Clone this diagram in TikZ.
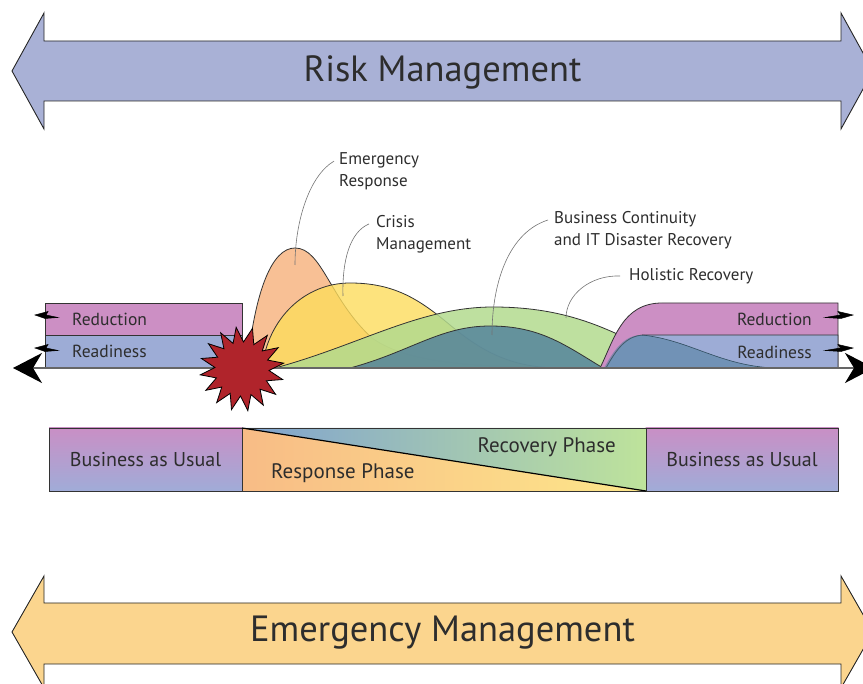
\documentclass[tikz,border=0pt]{standalone}
\usepackage{fontspec}
\setmainfont{PT Sans}
\usepackage{tikz}
\usetikzlibrary{shapes.geometric,arrows.meta}
\usepackage{color}

\definecolor{riskc}{HTML}{A9B1D6}
\definecolor{emgc}{HTML}{FBD58E}
\definecolor{reduc}{HTML}{CC8FC4}
\definecolor{readi}{HTML}{9DACD6}
\definecolor{starc}{HTML}{B0242B}
\definecolor{erc}{HTML}{F6B07A}
\definecolor{cmc}{HTML}{FDDC5C}
\definecolor{hrc}{HTML}{B3DA8E}
\definecolor{bcc}{HTML}{4E7E9C}
\definecolor{bauta}{HTML}{C98FC5}
\definecolor{baubo}{HTML}{A0ACD8}
\definecolor{respa}{HTML}{F8BC86}
\definecolor{respb}{HTML}{FDE78A}
\definecolor{reca}{HTML}{7FA2D0}
\definecolor{recb}{HTML}{BEE39B}
\definecolor{linec}{HTML}{333333}
\definecolor{txtc}{HTML}{2D2D2D}

\begin{document}
\begin{tikzpicture}[x=1pt,y=-1pt,
    bigarrow/.style={draw=black!85, line width=0.9pt},
    bigtxt/.style={font=\fontsize{36.5}{40}\selectfont, text=txtc, inner sep=0pt},
    band/.style={draw=linec, line width=0.8pt, minimum width=197pt,
      inner sep=0pt, anchor=north west},
    hump/.style={draw=linec, line width=0.8pt},
    lbl/.style={font=\fontsize{17}{22}\selectfont, text=txtc, align=left, inner sep=0pt},
    blbl/.style={font=\fontsize{17.5}{19}\selectfont, text=txtc, inner sep=0pt},
    phase/.style={font=\fontsize{21}{23}\selectfont, text=txtc, inner sep=0pt},
    baubox/.style={draw=linec, line width=0.8pt, top color=bauta, bottom color=baubo,
      minimum width=193pt, minimum height=63pt, inner sep=0pt,
      font=\fontsize{20}{22}\selectfont, text=txtc},
    leader/.style={draw=black!55, line width=0.6pt},
    jag/.style={fill=black, draw=black, line width=0.5pt, line join=miter}]
  \useasboundingbox (0,0) rectangle (863,684);

  % big arrows
  \draw[bigarrow, fill=riskc] (12,71) -- (44,13) -- (44,41) -- (841,41) -- (841,13)
    -- (873,71) -- (841,129) -- (841,101) -- (44,101) -- (44,129) -- cycle;
  \node[bigtxt] (risk) at (442.5,72) {Risk Management};
  \draw[bigarrow, fill=emgc] (12,632) -- (44,576) -- (44,603) -- (841,603) -- (841,576)
    -- (873,632) -- (841,688) -- (841,664) -- (44,664) -- (44,688) -- cycle;
  \node[bigtxt] (emg) at (442.5,633) {Emergency Management};

  % humps
  \fill[erc, opacity=.8] (247,368) .. controls (255,290) and (272,248) .. (295,248)
    .. controls (322,248) and (330,300) .. (372,338)
    .. controls (410,365) and (480,368) .. (600,368) -- cycle;
  \draw[hump] (247,368) .. controls (255,290) and (272,248) .. (295,248)
    .. controls (322,248) and (330,300) .. (372,338)
    .. controls (410,365) and (480,368) .. (600,368);
  \fill[cmc, opacity=.8] (262,368) .. controls (268,318) and (305,283) .. (350,283)
    .. controls (395,283) and (420,300) .. (450,325)
    .. controls (480,350) and (510,368) .. (560,368) -- cycle;
  \draw[hump] (262,368) .. controls (268,318) and (305,283) .. (350,283)
    .. controls (395,283) and (420,300) .. (450,325)
    .. controls (480,350) and (510,368) .. (560,368);
  \fill[hrc, opacity=.85] (275,368) .. controls (360,345) and (420,307) .. (493,307)
    .. controls (560,307) and (600,325) .. (640,345)
    .. controls (660,358) and (680,368) .. (700,368) -- cycle;
  \draw[hump] (275,368) .. controls (360,345) and (420,307) .. (493,307)
    .. controls (560,307) and (600,325) .. (640,345)
    .. controls (660,358) and (680,368) .. (700,368);
  \fill[bcc, opacity=.8] (350,368) .. controls (410,352) and (440,326) .. (490,326)
    .. controls (540,326) and (565,345) .. (603,368) -- cycle;
  \draw[hump] (350,368) .. controls (410,352) and (440,326) .. (490,326)
    .. controls (540,326) and (565,345) .. (603,368);

  % right blocks
  \draw[hump, fill=reduc] (600,368) .. controls (614,340) and (622,303) .. (662,303)
    -- (838,303) -- (838,368) -- cycle;
  \draw[hump, fill=readi] (606,368) .. controls (616,350) and (626,335) .. (645,335)
    -- (838,335) -- (838,368) -- cycle;
  \fill[bcc, opacity=.55] (604,368) .. controls (615,348) and (625,335) .. (642,335)
    .. controls (690,340) and (720,366) .. (775,368) -- cycle;
  \draw[draw=bcc!60!black, line width=0.6pt] (642,335)
    .. controls (690,340) and (720,366) .. (775,368);
  \node[blbl, anchor=east] (redrt) at (812,319) {Reduction};
  \node[blbl, anchor=east] (readrt) at (812,352) {Readiness};
  \draw[jag] (853,315) -- (838,311.5) -- (840.5,315) -- (825,317.5) -- (841,318.5) -- cycle;
  \draw[jag] (853,348) -- (838,344.5) -- (840.5,348) -- (825,350.5) -- (841,351.5) -- cycle;

  % left blocks
  \node[band, fill=reduc, minimum height=32pt] (redl) at (45,303) {};
  \node[band, fill=readi, minimum height=33pt] (readl) at (45,335) {};
  \node[blbl, anchor=west] (redlt) at ([xshift=27pt]redl.west) {Reduction};
  \node[blbl, anchor=west] (readlt) at ([xshift=27pt]readl.west) {Readiness};
  \draw[jag] (35,315) -- (48,311.5) -- (46,315) -- (58,317.5) -- (45,318.5) -- cycle;
  \draw[jag] (35,348) -- (48,344.5) -- (46,348) -- (58,350.5) -- (45,351.5) -- cycle;

  % time line
  \coordinate (tl) at (13,368);
  \coordinate (tr) at (874,368);
  \draw[line width=1.4pt, draw=black!60,
    {Stealth[length=29pt,width=30pt,inset=9pt,color=black]}-{Stealth[length=29pt,width=30pt,inset=9pt,color=black]}]
    (tl) -- (tr);

  % event
  \node[star, star points=16, star point ratio=1.55, minimum size=84pt,
    fill=starc, draw=black, line width=0.8pt, inner sep=0pt, rotate=8] (bang) at (242,369) {};

  % labels
  \coordinate (erpk) at (295,265);
  \coordinate (cmpk) at (343,296);
  \coordinate (bcpk) at (492,335);
  \coordinate (hrpk) at (566,318);
  \node[lbl, anchor=west] (er) at (339,171) {Emergency\\Response};
  \node[lbl, anchor=west] (cm) at (376,234) {Crisis\\Management};
  \node[lbl, anchor=west] (bc) at (554,230) {Business Continuity\\and IT Disaster Recovery};
  \node[lbl, anchor=west] (hr) at (629,276) {Holistic Recovery};
  \draw[leader] ([xshift=-5pt,yshift=-9pt]er.north west) .. controls (310,175) and (295,220) .. (erpk);
  \draw[leader] ([xshift=-7pt,yshift=-9pt]cm.north west) .. controls (350,232) and (342,260) .. (cmpk);
  \draw[leader] ([xshift=-6pt,yshift=-9pt]bc.north west) .. controls (510,232) and (492,280) .. (bcpk);
  \draw[leader] ([xshift=-9pt]hr.west) .. controls (590,275) and (566,295) .. (hrpk);

  % phases
  \node[baubox] (baul) at (145.5,459.5) {Business as Usual};
  \node[baubox] (baur) at (742,459.5) {Business as Usual};
  \shade[left color=respa, right color=respb] (242,428) -- (646,491) -- (242,491) -- cycle;
  \shade[left color=reca, right color=recb] (242,428) -- (646,428) -- (646,491) -- cycle;
  \draw[draw=linec, line width=0.8pt] (242,428) rectangle (646,491);
  \draw[line width=1.2pt] (242,428) -- (646,491);
  \node[phase, anchor=west] (resp) at (271,473) {Response Phase};
  \node[phase, anchor=east] (reco) at (616,447) {Recovery Phase};
\end{tikzpicture}
\end{document}
